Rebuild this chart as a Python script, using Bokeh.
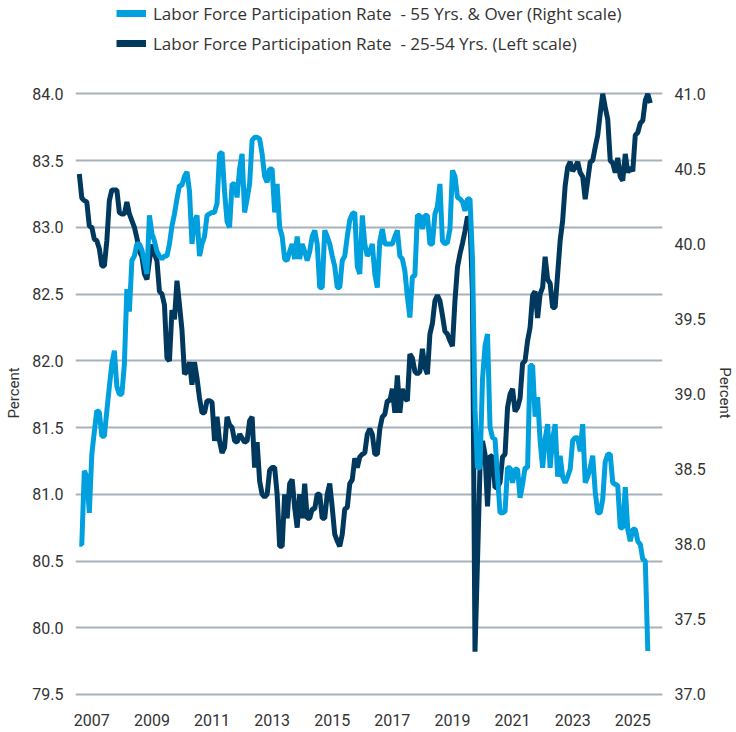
from bokeh.plotting import figure
from bokeh.layouts import column
from bokeh.models import (Range1d, LinearAxis, FixedTicker, Legend, LegendItem,
                          PrintfTickFormatter, ColumnDataSource)
from bokeh.embed import file_html
from bokeh.resources import INLINE

# ---------------- data (monthly, first value = Feb 2007) ----------------
start_year = 2007
start_month = 1  # months after January of start_year

lfpr_25_54 = [
    83.40, 83.22, 83.20, 83.19, 83.01, 83.00, 82.91, 82.90, 82.84, 82.71, 82.71,
    82.90, 83.20, 83.28, 83.28, 83.28, 83.11, 83.10, 83.10, 83.19, 83.10, 83.05, 83.00,
    82.92, 82.82, 82.78, 82.65, 82.61, 82.75, 82.87, 82.80, 82.75, 82.52, 82.50, 82.42,
    82.02, 82.00, 82.38, 82.31, 82.60, 82.42, 82.23, 81.90, 81.92, 81.99, 81.82, 81.99,
    81.87, 81.72, 81.61, 81.61, 81.70, 81.70, 81.69, 81.40, 81.58, 81.40, 81.31, 81.35,
    81.58, 81.52, 81.50, 81.40, 81.39, 81.45, 81.42, 81.39, 81.40, 81.55, 81.58, 81.20,
    81.39, 81.10, 81.00, 80.98, 81.00, 81.18, 81.20, 81.20, 81.00, 80.61, 80.61, 81.00,
    80.82, 81.08, 81.11, 80.90, 80.75, 81.00, 80.82, 81.08, 80.82, 80.82, 80.89, 80.89,
    81.00, 81.00, 80.82, 80.82, 81.00, 81.08, 80.90, 80.70, 80.65, 80.61, 80.70, 80.89,
    80.90, 81.08, 81.11, 81.27, 81.20, 81.28, 81.30, 81.31, 81.45, 81.49, 81.45, 81.30,
    81.30, 81.49, 81.58, 81.60, 81.70, 81.70, 81.79, 81.61, 81.89, 81.61, 81.79, 81.72,
    81.70, 82.05, 82.02, 81.92, 81.90, 81.92, 82.09, 81.95, 81.90, 82.20, 82.28, 82.45,
    82.49, 82.45, 82.34, 82.22, 82.20, 82.15, 82.11, 82.45, 82.70, 82.80, 82.88, 82.97,
    83.08, 83.05, 82.50, 79.82, 80.50, 81.20, 81.40, 81.30, 80.91, 81.29, 81.28, 81.05,
    81.05, 81.09, 81.28, 81.30, 81.65, 81.75, 81.79, 81.62, 81.65, 81.72, 81.98, 82.00,
    82.15, 82.25, 82.49, 82.52, 82.32, 82.50, 82.55, 82.78, 82.61, 82.58, 82.40, 82.40,
    82.65, 82.90, 83.05, 83.31, 83.45, 83.49, 83.42, 83.45, 83.49, 83.41, 83.38, 83.21,
    83.35, 83.49, 83.50, 83.60, 83.69, 83.85, 84.00, 83.90, 83.81, 83.50, 83.48, 83.41,
    83.52, 83.38, 83.35, 83.55, 83.41, 83.45, 83.42, 83.69, 83.71, 83.78, 83.80, 83.95,
    84.00, 83.93,
]

lfpr_55_over = [
    38.00, 38.00, 38.49, 38.45, 38.21, 38.60, 38.75, 38.89, 38.88, 38.72, 38.72,
    38.89, 39.05, 39.20, 39.29, 39.05, 39.00, 39.00, 39.20, 39.70, 39.55, 39.89, 39.92,
    40.00, 40.00, 39.96, 39.88, 39.80, 40.19, 40.07, 40.02, 39.95, 39.92, 39.90, 39.92,
    39.92, 40.00, 40.12, 40.20, 40.30, 40.39, 40.39, 40.45, 40.48, 40.35, 40.00, 40.15,
    40.19, 39.92, 40.00, 40.05, 40.19, 40.20, 40.21, 40.21, 40.27, 40.60, 40.61, 40.35,
    40.15, 40.11, 40.40, 40.40, 40.31, 40.50, 40.60, 40.21, 40.30, 40.40, 40.69, 40.71,
    40.71, 40.70, 40.60, 40.45, 40.41, 40.50, 40.50, 40.21, 40.40, 40.11, 40.05, 39.90,
    39.89, 39.95, 40.00, 39.90, 40.05, 39.90, 40.00, 39.95, 39.89, 39.95, 40.05, 40.09,
    40.00, 39.71, 39.71, 40.09, 40.05, 40.00, 39.92, 39.85, 39.71, 39.71, 39.89, 39.92,
    40.05, 40.16, 40.20, 40.21, 39.85, 39.80, 40.19, 40.00, 39.92, 39.95, 40.00, 39.80,
    39.71, 40.02, 40.10, 40.00, 40.00, 40.00, 40.00, 40.05, 40.09, 39.92, 39.90, 39.82,
    39.65, 39.51, 39.78, 39.79, 40.19, 40.19, 40.10, 40.19, 40.19, 40.00, 40.00, 40.20,
    40.25, 40.40, 40.02, 40.00, 40.01, 40.10, 40.49, 40.45, 40.31, 40.30, 40.28, 40.22,
    40.30, 40.30, 39.90, 38.90, 38.51, 38.51, 39.10, 39.32, 39.40, 38.78, 38.71, 38.70,
    38.45, 38.21, 38.21, 38.22, 38.51, 38.51, 38.41, 38.50, 38.50, 38.31, 38.40, 38.51,
    38.51, 39.19, 39.19, 38.85, 38.98, 38.69, 38.51, 38.70, 38.80, 38.51, 38.70, 38.80,
    38.45, 38.59, 38.45, 38.41, 38.45, 38.50, 38.69, 38.71, 38.71, 38.62, 38.80, 38.41,
    38.45, 38.51, 38.59, 38.35, 38.21, 38.21, 38.30, 38.55, 38.60, 38.60, 38.41, 38.40,
    38.39, 38.11, 38.11, 38.38, 38.10, 38.02, 38.10, 38.10, 38.02, 38.00, 37.90, 37.89,
    37.29,
]

left_ticks = [79.5, 80.0, 80.5, 81.0, 81.5, 82.0, 82.5, 83.0, 83.5, 84.0]
right_ticks = [37.0, 37.5, 38.0, 38.5, 39.0, 39.5, 40.0, 40.5, 41.0]
year_labels = ["2007", "2009", "2011", "2013", "2015", "2017", "2019", "2021", "2023", "2025"]

label_55 = "Labor Force Participation Rate  - 55 Yrs. & Over (Right scale)"
label_25 = "Labor Force Participation Rate  - 25-54 Yrs. (Left scale)"

# ---------------- styling ----------------
LIGHT = "#00A0DF"
DARK = "#00395D"
GRID = "#A8B2BC"
TEXT = "#333333"
FONT = "Roboto"
W = 736
LEG_H = 60

t_dark = [start_year + (start_month + i) / 12 for i in range(len(lfpr_25_54))]
t_light = [start_year + (start_month + i) / 12 for i in range(len(lfpr_55_over))]

src_dark = ColumnDataSource(dict(t=t_dark, v=lfpr_25_54))
src_light = ColumnDataSource(dict(t=t_light, v=lfpr_55_over))

# ---------------- legend strip (frame aligned with main chart frame) ----------------
lg = figure(width=W, height=LEG_H, output_backend="svg", toolbar_location=None,
            x_range=Range1d(0, 1), y_range=Range1d(0, 1),
            x_axis_location=None, y_axis_location=None,
            min_border_left=75, min_border_right=68, min_border_top=0, min_border_bottom=0)
lg.outline_line_color = None
lg.grid.visible = False
# swatch renderers use the series data, which lies outside this strip's view
sw_light = lg.line("t", "v", source=src_light, line_color=LIGHT, line_width=7)
sw_dark = lg.line("t", "v", source=src_dark, line_color=DARK, line_width=7)
legend = Legend(items=[LegendItem(label=label_55, renderers=[sw_light]),
                       LegendItem(label=label_25, renderers=[sw_dark])],
                location=(41, 5), orientation="vertical",
                glyph_width=30, glyph_height=24, label_height=24,
                label_standoff=7, spacing=6, padding=0, margin=0,
                border_line_color=None, background_fill_alpha=0,
                label_text_font="Open Sans", label_text_font_size="17px",
                label_text_color=TEXT)
lg.add_layout(legend)

# ---------------- main chart ----------------
p = figure(width=W, height=732 - LEG_H, output_backend="svg", toolbar_location=None,
           x_range=Range1d(2006.957, 2026.489),
           y_range=Range1d(79.4625, 84.0547),
           min_border_left=75, min_border_right=68,
           min_border_top=86 - LEG_H, min_border_bottom=33)
p.outline_line_color = None

p.extra_y_ranges = {"right": Range1d(36.9667, 41.0486)}
raxis = LinearAxis(y_range_name="right", ticker=FixedTicker(ticks=right_ticks))
p.add_layout(raxis, "right")

xa = p.xaxis[0]
year_pos = [int(y) + 0.5 for y in year_labels]
xa.ticker = FixedTicker(ticks=year_pos)
xa.major_label_overrides = {pos: lab for pos, lab in zip(year_pos, year_labels)}
xa.major_label_standoff = 14

la = p.yaxis[0]
la.ticker = FixedTicker(ticks=left_ticks)
la.axis_label = "Percent"
raxis.axis_label = "Percent"

for ax in [xa, la, raxis]:
    ax.axis_line_color = None
    ax.major_tick_line_color = None
    ax.minor_tick_line_color = None
    ax.major_tick_out = 0
    ax.major_tick_in = 0
    ax.major_label_text_font = FONT
    ax.major_label_text_font_size = "16px"
    ax.major_label_text_color = TEXT
    ax.axis_label_text_font = FONT
    ax.axis_label_text_font_size = "15px"
    ax.axis_label_text_font_style = "normal"
    ax.axis_label_text_color = TEXT
for ax in [la, raxis]:
    ax.formatter = PrintfTickFormatter(format="%.1f")
    ax.major_label_standoff = 12
la.axis_label_standoff = 6
raxis.axis_label_standoff = 7

p.xgrid.visible = False
p.ygrid.ticker = FixedTicker(ticks=left_ticks)
p.ygrid.grid_line_color = GRID
p.ygrid.grid_line_width = 2

p.line("t", "v", source=src_dark, line_color=DARK, line_width=5)
p.line("t", "v", source=src_light, line_color=LIGHT, line_width=5, y_range_name="right")

layout = column(lg, p, spacing=0)
open("out.html", "w").write(file_html(layout, INLINE))
